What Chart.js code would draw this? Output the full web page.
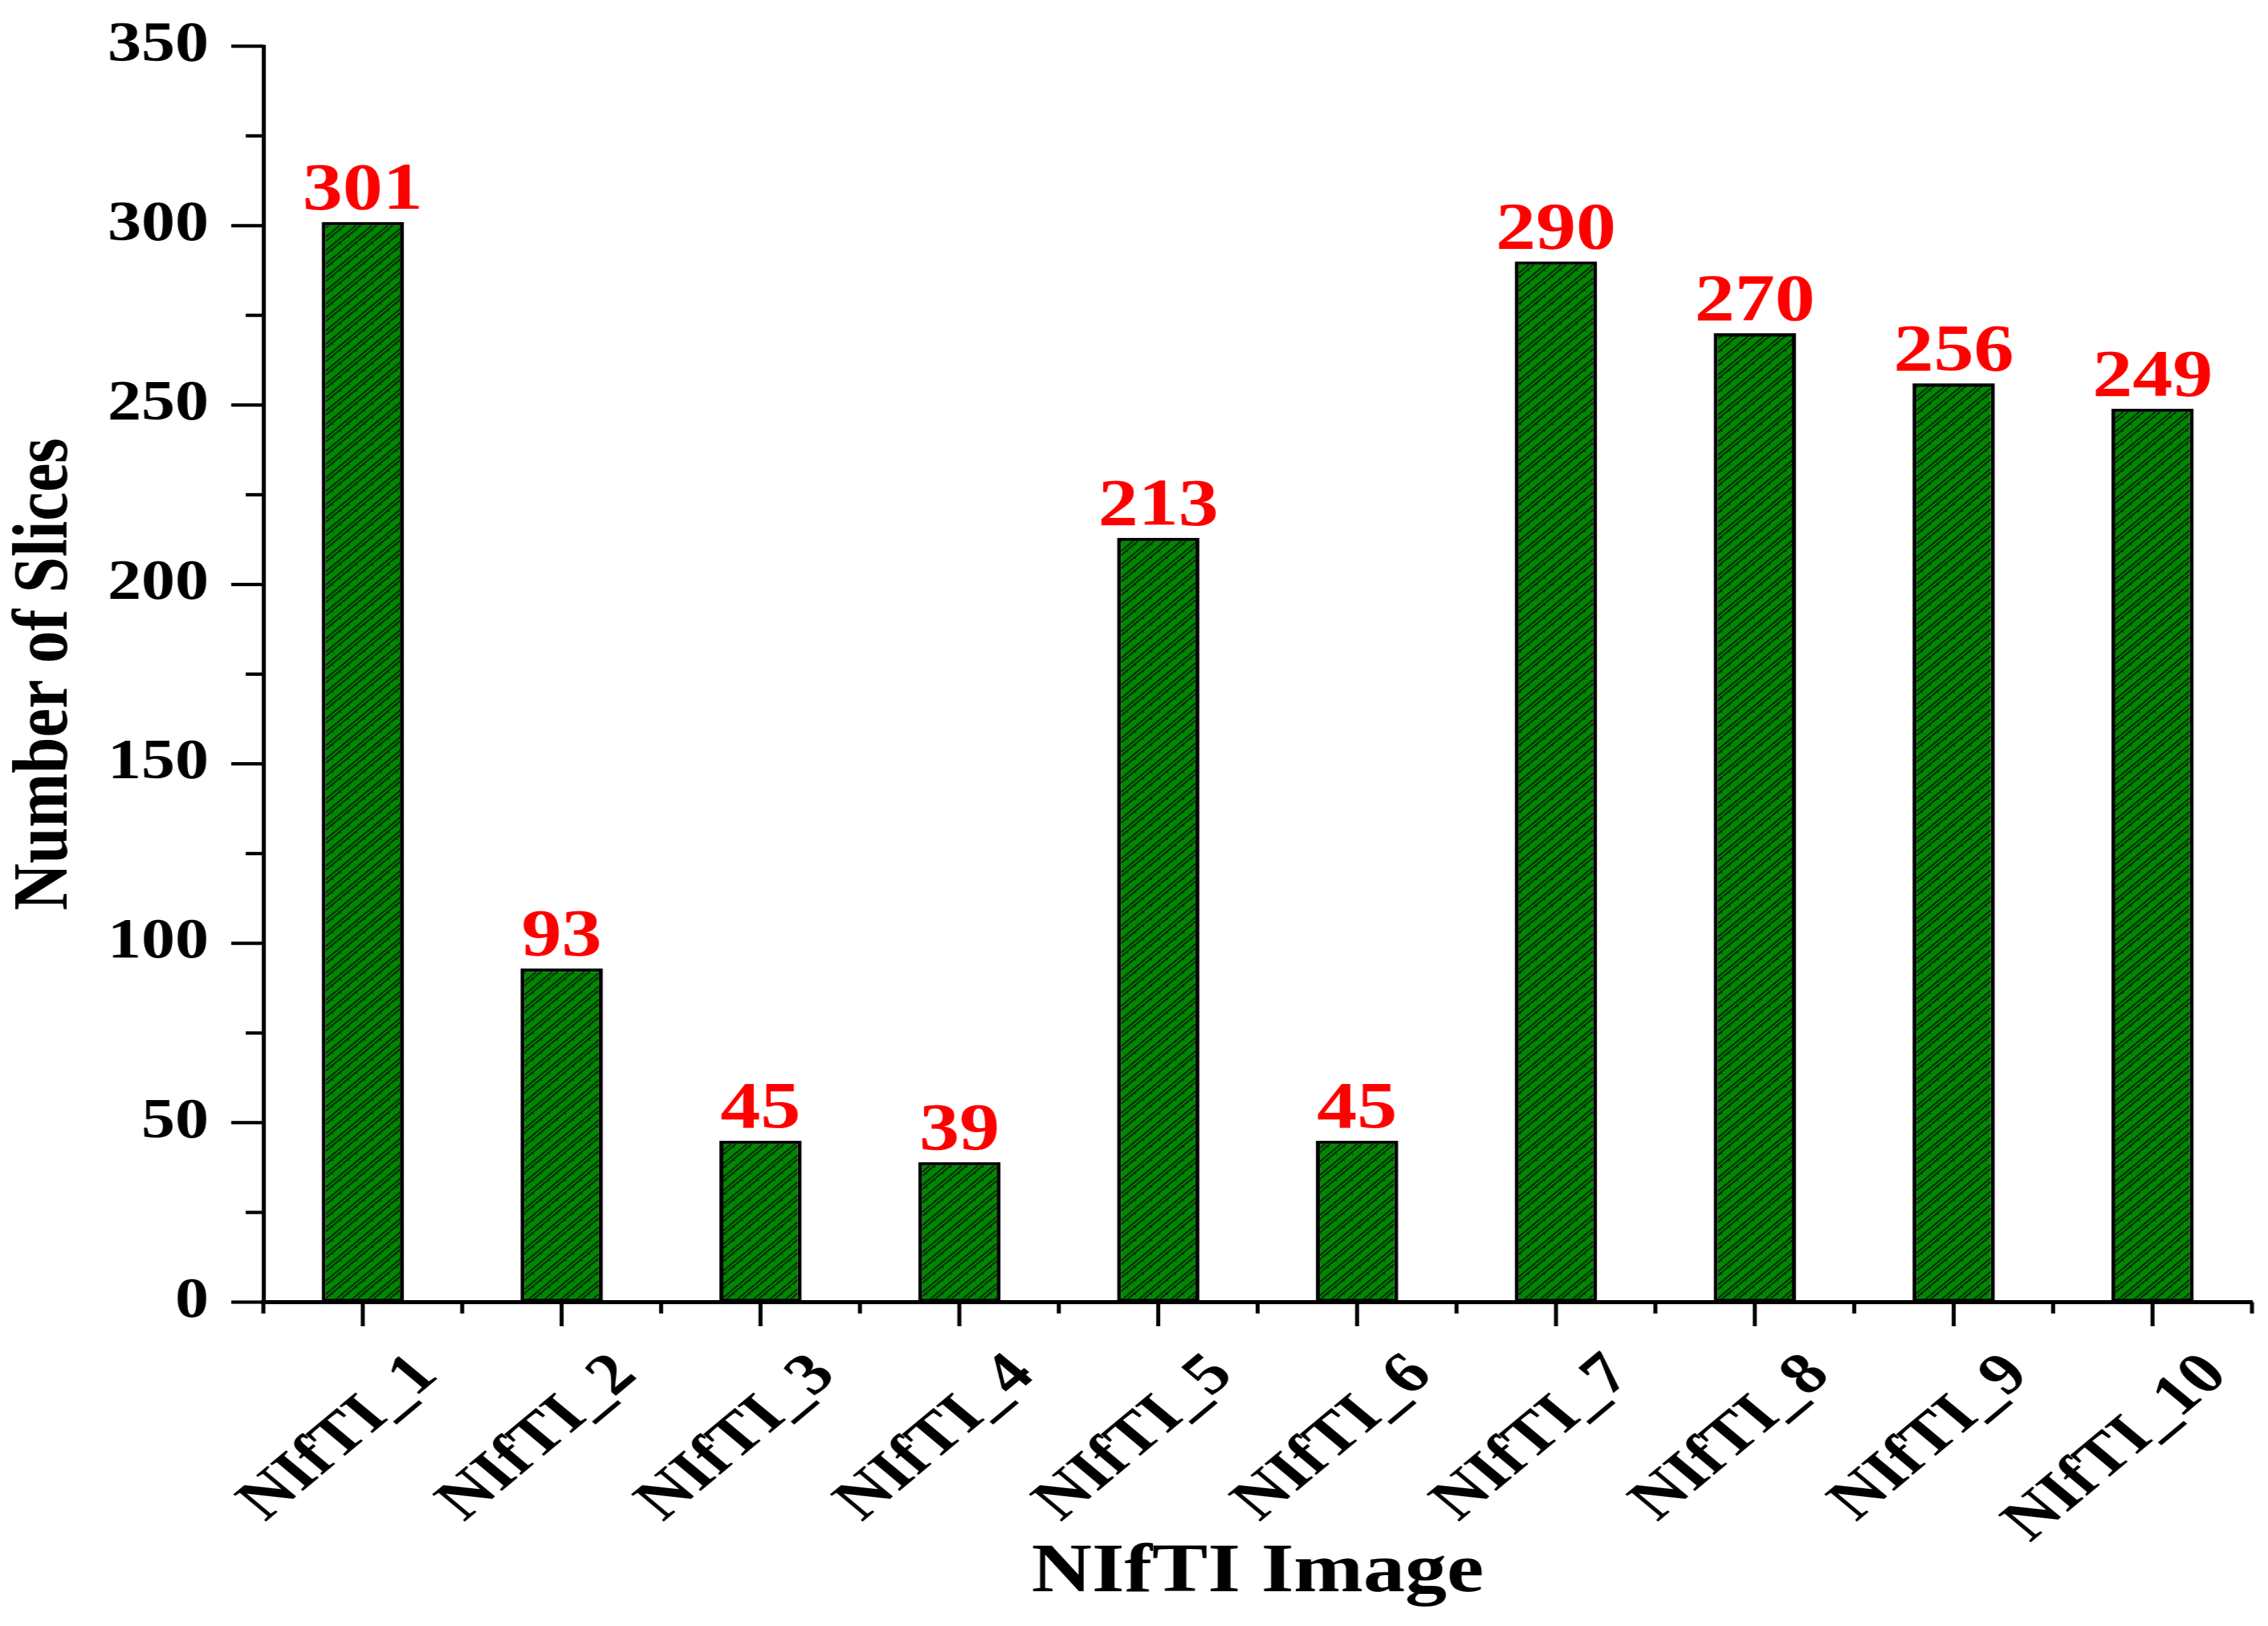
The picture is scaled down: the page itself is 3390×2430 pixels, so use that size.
<!DOCTYPE html>
<html>
<head>
<meta charset="utf-8">
<script src="https://cdn.jsdelivr.net/npm/chart.js@4.4.0/dist/chart.umd.min.js"></script>
<style>
  html, body { margin: 0; padding: 0; background: #fff; overflow: hidden; }
  /* the original figure is stretched sideways, so draw narrower and widen */
  #wrap { width: 2825px; height: 2430px; transform: scaleX(1.2); transform-origin: 0 0; }
</style>
</head>
<body>
<div id="wrap"><canvas id="chart-slices"></canvas></div>
<script>
const images = ["NIfTI_1", "NIfTI_2", "NIfTI_3", "NIfTI_4", "NIfTI_5",
                "NIfTI_6", "NIfTI_7", "NIfTI_8", "NIfTI_9", "NIfTI_10"];
const slices = [301, 93, 45, 39, 213, 45, 290, 270, 256, 249];
const yTickValues = [0, 50, 100, 150, 200, 250, 300, 350];
const yMinorValues = [25, 75, 125, 175, 225, 275, 325];

const serif = "'Liberation Serif', 'Times New Roman', serif";

function makeHatch() {
  const c = document.createElement("canvas");
  c.width = 20;
  c.height = 20;
  const g = c.getContext("2d");
  g.fillStyle = "#008800";
  g.fillRect(0, 0, 20, 20);
  g.strokeStyle = "#062806";
  g.lineWidth = 2.2;
  [0, 6].forEach(function (d) {
    [-20, 0, 20].forEach(function (k) {
      g.beginPath();
      g.moveTo(0 + k + d, 20);
      g.lineTo(20 + k + d, 0);
      g.stroke();
    });
  });
  // short back-slash dashes of the weave
  g.lineWidth = 1.5;
  g.beginPath();
  g.moveTo(12, 12);
  g.lineTo(15, 15);
  g.moveTo(2, 2);
  g.lineTo(5, 5);
  g.stroke();
  return g.createPattern(c, "repeat");
}

const tickMarks = {
  id: "tickMarks",
  afterDraw(chart) {
    const ctx = chart.ctx;
    const x = chart.scales.x;
    const y = chart.scales.y;
    const left = chart.chartArea.left;
    const bottom = chart.chartArea.bottom;
    ctx.save();
    ctx.strokeStyle = "#000";
    ctx.lineWidth = 5;
    ctx.lineCap = "butt";
    yTickValues.forEach(function (v) {
      const py = y.getPixelForValue(v);
      ctx.beginPath();
      ctx.moveTo(left - 40, py);
      ctx.lineTo(left, py);
      ctx.stroke();
    });
    yMinorValues.forEach(function (v) {
      const py = y.getPixelForValue(v);
      ctx.beginPath();
      ctx.moveTo(left - 22, py);
      ctx.lineTo(left, py);
      ctx.stroke();
    });
    images.forEach(function (lbl, i) {
      const px = x.getPixelForValue(i);
      ctx.beginPath();
      ctx.moveTo(px, bottom);
      ctx.lineTo(px, bottom + 36);
      ctx.stroke();
    });
    for (let i = 0; i <= images.length; i++) {
      const px = x.getPixelForValue(i - 0.5);
      ctx.beginPath();
      ctx.moveTo(px, bottom);
      ctx.lineTo(px, bottom + 17);
      ctx.stroke();
    }
    ctx.restore();
  },
};

const barValues = {
  id: "barValues",
  afterDatasetsDraw(chart) {
    const ctx = chart.ctx;
    const meta = chart.getDatasetMeta(0);
    ctx.save();
    ctx.fillStyle = "#ff0000";
    ctx.font = "bold 100px " + serif;
    ctx.textAlign = "center";
    ctx.textBaseline = "alphabetic";
    meta.data.forEach(function (bar, i) {
      ctx.fillText(String(slices[i]), bar.x, bar.y - 20);
    });
    ctx.restore();
  },
};

const ctx = document.getElementById("chart-slices").getContext("2d");

new Chart(ctx, {
  type: "bar",
  plugins: [tickMarks, barValues],
  data: {
    labels: images,
    datasets: [
      {
        label: "Number of Slices",
        data: slices,
        backgroundColor: makeHatch(),
        borderColor: "#000",
        borderWidth: 5,
        borderSkipped: false,
        categoryPercentage: 1,
        barPercentage: 0.414,
      },
    ],
  },
  options: {
    responsive: true,
    maintainAspectRatio: false,
    animation: false,
    devicePixelRatio: 1,
    layout: {
      padding: { top: 69, right: 20, left: 0, bottom: 0 },
    },
    plugins: {
      legend: { display: false },
      tooltip: { enabled: false },
    },
    scales: {
      y: {
        min: 0,
        max: 350,
        afterBuildTicks(scale) {
          scale.ticks = yTickValues.map((v) => ({ value: v }));
        },
        afterFit(scale) {
          scale.width = 328;
          scale.paddingTop = 0;
          scale.paddingBottom = 0;
        },
        grid: { display: false, drawTicks: false },
        border: { display: true, color: "#000", width: 5 },
        ticks: {
          padding: 68,
          color: "#000",
          font: { family: serif, size: 84, weight: "bold" },
        },
        title: {
          display: true,
          text: "Number of Slices",
          color: "#000",
          padding: { top: 0, bottom: 0 },
          font: { family: serif, size: 97, weight: "bold", lineHeight: 1.2 },
        },
      },
      x: {
        afterFit(scale) {
          scale.height = 484;
        },
        grid: { display: false, drawTicks: false },
        border: { display: true, color: "#000", width: 6 },
        ticks: {
          autoSkip: false,
          minRotation: 45,
          maxRotation: 45,
          padding: 58,
          labelOffset: 80,
          color: "#000",
          font: { family: serif, size: 88, weight: "bold" },
        },
        title: {
          display: true,
          text: "NIfTI Image",
          color: "#000",
          padding: { top: 0, bottom: 16 },
          font: { family: serif, size: 104, weight: "bold", lineHeight: 1.2 },
        },
      },
    },
  },
});
</script>
</body>
</html>
